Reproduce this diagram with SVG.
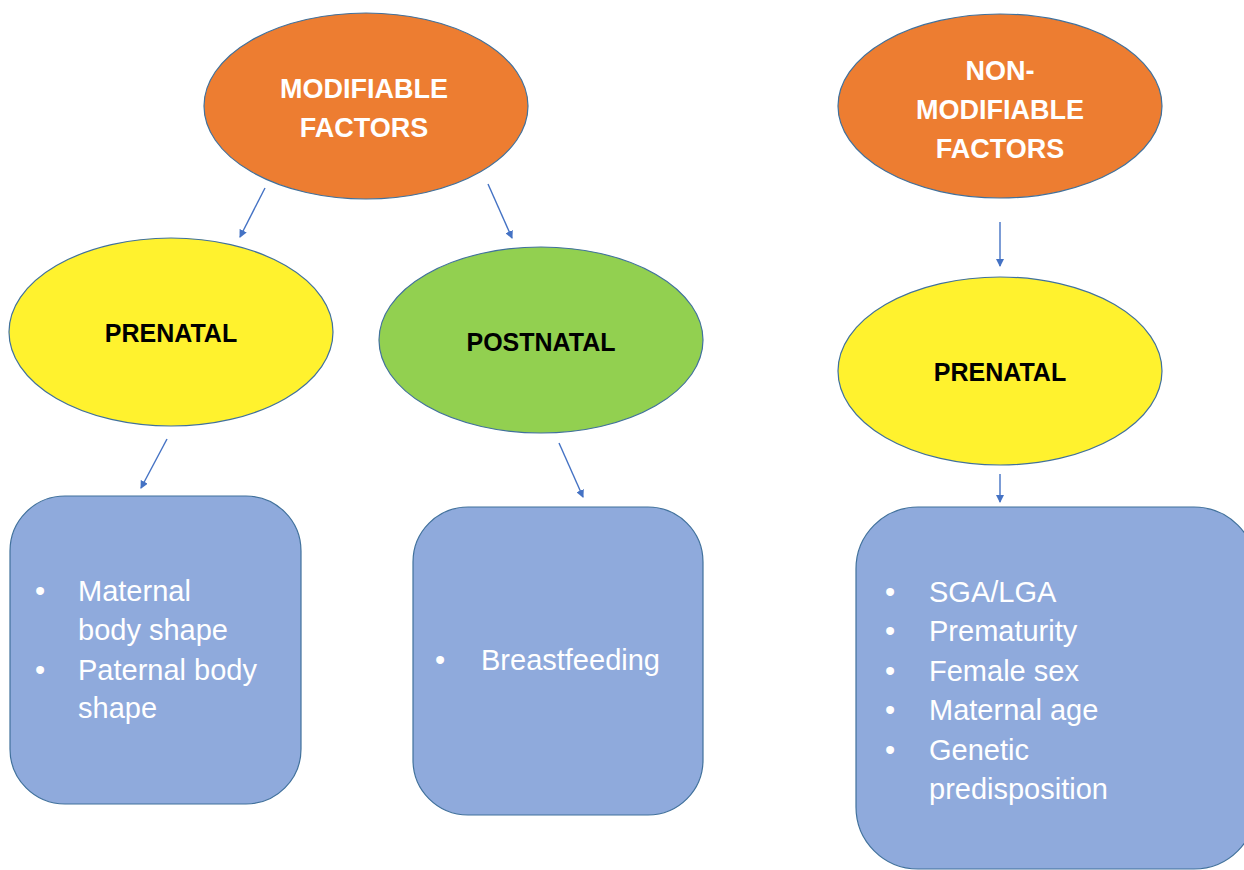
<svg xmlns="http://www.w3.org/2000/svg" width="1244" height="870" viewBox="0 0 1244 870">
<defs>
<style>
.orange{fill:#ED7D31;stroke:#41719C;stroke-width:1.2}
.yellow{fill:#FFF22E;stroke:#41719C;stroke-width:1.2}
.green{fill:#92D050;stroke:#41719C;stroke-width:1.2}
.box{fill:#8FAADC;stroke:#41719C;stroke-width:1.2}
.hw{font-family:"Liberation Sans",Arial,sans-serif;font-weight:bold;font-size:27px;fill:#FFFFFF;text-anchor:middle}
.hb{font-family:"Liberation Sans",Arial,sans-serif;font-weight:bold;font-size:25px;fill:#000000;text-anchor:middle}
.bt{font-family:"Liberation Sans",Arial,sans-serif;font-size:29px;fill:#FFFFFF}
.conn{stroke:#4472C4;stroke-width:1.4;fill:none;marker-end:url(#ah)}
</style>
<marker id="ah" markerWidth="8" markerHeight="8" refX="7" refY="4" orient="auto" markerUnits="userSpaceOnUse">
<path d="M0,0 L8,4 L0,8 z" fill="#4472C4"/>
</marker>
</defs>
<rect width="1244" height="870" fill="#FFFFFF"/>
<g id="connectors">
<line class="conn" x1="265" y1="188" x2="240" y2="237"/>
<line class="conn" x1="488" y1="184" x2="512" y2="238"/>
<line class="conn" x1="167" y1="439" x2="141" y2="488"/>
<line class="conn" x1="559" y1="443" x2="583" y2="497"/>
<line class="conn" x1="1000" y1="222" x2="1000" y2="266"/>
<line class="conn" x1="1000" y1="474" x2="1000" y2="502"/>
</g>
<g id="modifiable">
<ellipse class="orange" cx="366" cy="106" rx="162" ry="93"/>
<text class="hw" x="364" y="98">MODIFIABLE</text>
<text class="hw" x="364" y="137">FACTORS</text>
</g>
<g id="nonmodifiable">
<ellipse class="orange" cx="1000" cy="106" rx="162" ry="92"/>
<text class="hw" x="1000" y="80">NON-</text>
<text class="hw" x="1000" y="119">MODIFIABLE</text>
<text class="hw" x="1000" y="158">FACTORS</text>
</g>
<g id="prenatal-left">
<ellipse class="yellow" cx="171" cy="332" rx="162" ry="94"/>
<text class="hb" x="171" y="342">PRENATAL</text>
</g>
<g id="postnatal">
<ellipse class="green" cx="541" cy="340" rx="162" ry="93"/>
<text class="hb" x="541" y="351">POSTNATAL</text>
</g>
<g id="prenatal-right">
<ellipse class="yellow" cx="1000" cy="371" rx="162" ry="94"/>
<text class="hb" x="1000" y="381">PRENATAL</text>
</g>
<g id="box-modifiable-prenatal">
<rect class="box" x="10" y="496" width="291" height="308" rx="55" ry="55"/>
<text class="bt" x="35" y="601">•</text>
<text class="bt" x="78" y="601">Maternal</text>
<text class="bt" x="78" y="640">body shape</text>
<text class="bt" x="35" y="680">•</text>
<text class="bt" x="78" y="680">Paternal body</text>
<text class="bt" x="78" y="718">shape</text>
</g>
<g id="box-postnatal">
<rect class="box" x="413" y="507" width="290" height="308" rx="55" ry="55"/>
<text class="bt" x="435" y="670">•</text>
<text class="bt" x="481" y="670">Breastfeeding</text>
</g>
<g id="box-nonmodifiable">
<rect class="box" x="856" y="507" width="400" height="362" rx="62" ry="62"/>
<text class="bt" x="885" y="602">•</text>
<text class="bt" x="929" y="602">SGA/LGA</text>
<text class="bt" x="885" y="641">•</text>
<text class="bt" x="929" y="641">Prematurity</text>
<text class="bt" x="885" y="681">•</text>
<text class="bt" x="929" y="681">Female sex</text>
<text class="bt" x="885" y="720">•</text>
<text class="bt" x="929" y="720">Maternal age</text>
<text class="bt" x="885" y="760">•</text>
<text class="bt" x="929" y="760">Genetic</text>
<text class="bt" x="929" y="799">predisposition</text>
</g>
</svg>
